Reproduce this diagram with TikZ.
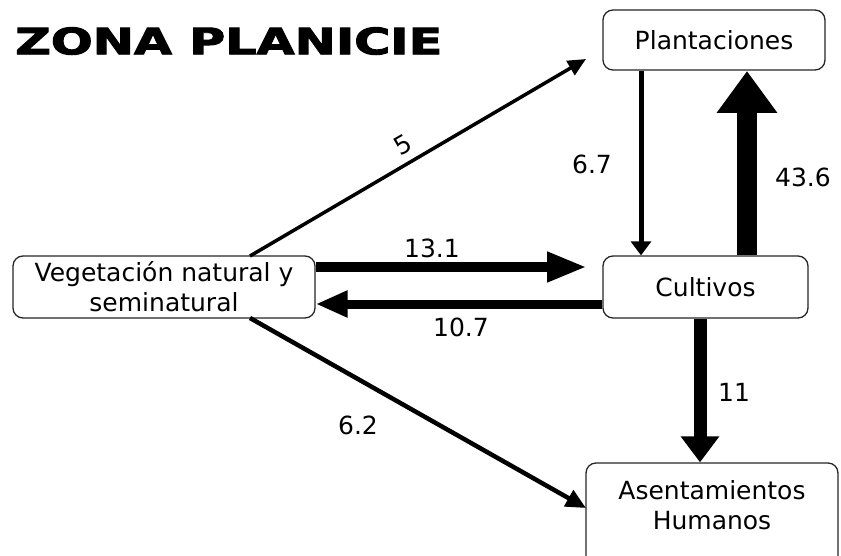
\documentclass[tikz,border=0pt]{standalone}
\usepackage{fontspec}
\setmainfont{DejaVu Sans}
\newfontfamily\titlefont[UprightFeatures={FakeBold=2.5}]{DejaVu Sans Bold}
\usetikzlibrary{arrows.meta}
\begin{document}
\begin{tikzpicture}[x=1pt,y=-1pt,
  box/.style={draw=black!85,line width=1.3pt,rounded corners=10pt,fill=white,align=center,font=\fontsize{25}{30}\selectfont,inner sep=0pt},
  lbl/.style={font=\fontsize{25}{28}\selectfont,inner sep=0pt},
  flow/.style={draw=black}]
\useasboundingbox (0,0) rectangle (841,556);
\clip (0,0) rectangle (841,556);
\node[anchor=south west,inner sep=0pt] (title) at (15,55) {\resizebox{427pt}{27pt}{\titlefont ZONA PLANICIE}};
\node[box,minimum width=222pt,minimum height=60pt] (plan) at (714,40) {Plantaciones};
\node[box,minimum width=302pt,minimum height=62pt] (veg) at (164,287) {Vegetación natural y\\seminatural};
\node[box,minimum width=205pt,minimum height=62pt] (cult) at (705.5,287) {Cultivos};
\node[box,minimum width=252pt,minimum height=112pt,text depth=28pt] (asen) at (712,519) {Asentamientos\\Humanos};
% coordinates on box borders
\coordinate (v5) at (250,256);
\coordinate (v62) at (250,318);
\coordinate (p5) at (586,59);
\coordinate (a62) at (586,508);
% arrows
\draw[flow,line width=3.5pt,-{Triangle[width=16pt,length=18pt]}] (v5) -- (p5);
\draw[flow,line width=4.5pt,-{Triangle[width=18pt,length=20pt]}] (v62) -- (a62);
\draw[flow,line width=10pt,-{Triangle[width=28pt,length=40pt]}] (veg.east |- 0,267) -- (587,267);
\draw[flow,line width=9pt,-{Triangle[width=25pt,length=32pt]}] (cult.west |- 0,304) -- (veg.east |- 0,304);
\draw[flow,line width=5pt,-{Triangle[width=20pt,length=14pt]}] (plan.south -| 641,0) -- (cult.north -| 641,0);
\draw[flow,line width=20pt,-{Triangle[width=58pt,length=42pt]}] (cult.north -| 747,0) -- (747,71);
\draw[flow,line width=13pt,-{Triangle[width=37pt,length=26pt]}] (cult.south -| 700,0) -- (asen.north -| 700,0);
% labels
\node[lbl,rotate=30] (l5) at (403,145) {5};
\node[lbl] (l67) at (592,164) {6.7};
\node[lbl] (l436) at (803,177) {43.6};
\node[lbl] (l131) at (432,248) {13.1};
\node[lbl] (l107) at (461,327) {10.7};
\node[lbl] (l11) at (734,392) {11};
\node[lbl] (l62) at (358,425) {6.2};
\end{tikzpicture}
\end{document}
